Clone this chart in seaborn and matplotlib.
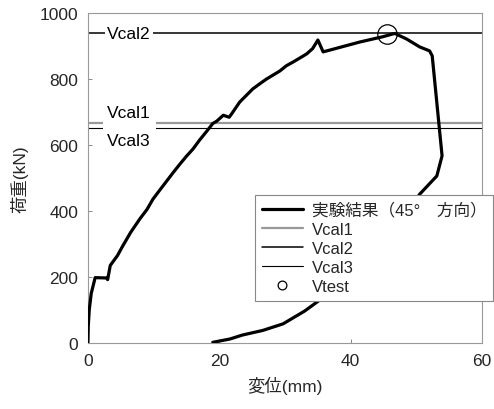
import matplotlib
matplotlib.use("Agg")
import matplotlib.pyplot as plt
import seaborn as sns
import pandas as pd

# ---- data ----
disp = [0, 0.05, 0.2, 0.5, 1.0, 1.1, 2.8, 3.0, 3.4, 4.5, 5.3, 6.5, 7.9, 9.0, 9.9, 11, 12, 13,
        14, 15, 16, 17, 18.1, 19, 19.6, 20.6, 21.5, 21.9, 23.1, 24, 25.1, 26.2, 27.2, 28.2,
        29.2, 30.2, 31.2, 32.3, 33.3, 34.2, 35.0, 35.8, 41.4, 44.9, 46.7, 48.5, 50.5, 52.0,
        52.4, 53.9, 53.1, 50.5, 48, 45, 41, 37, 33, 29.7, 26.6, 23.5, 21.6, 19]
load = [0, 50, 100, 150, 190, 198, 197, 192, 235, 265, 294, 335, 376, 405, 436, 465, 491, 517,
        542, 566, 588, 615, 642, 665, 672, 690, 684, 695, 730, 748, 770, 786, 800, 812,
        824, 840, 851, 864, 876, 892, 918, 882, 912, 928, 938, 921, 897, 885,
        870, 567, 506, 451, 380, 300, 220, 155, 97, 58, 38, 24, 12, 2]
vcal_names = ["Vcal1", "Vcal2", "Vcal3"]
vcal_values = [667, 938, 652]
vtest_x = [45.5]
vtest_y = [935]
series_label = "実験結果（45°　方向）"
x_ticks = [0, 20, 40, 60]
y_ticks = [0, 200, 400, 600, 800, 1000]

sns.set_theme(style="ticks")
plt.rcParams["font.family"] = ["Liberation Sans", "Noto Sans CJK JP", "DejaVu Sans"]
plt.rcParams["xtick.direction"] = "in"
plt.rcParams["ytick.direction"] = "in"

fig = plt.figure(figsize=(4.94, 4.10), dpi=100)
ax = fig.add_axes([0.178, 0.161, 0.798, 0.805])

df = pd.DataFrame({"disp": disp, "load": load})
sns.lineplot(data=df, x="disp", y="load", sort=False, estimator=None, color="black",
             linewidth=2.3, ax=ax, label=series_label, zorder=3)

styles = {"Vcal1": dict(color="#999999", lw=1.6), "Vcal2": dict(color="black", lw=1.1),
          "Vcal3": dict(color="black", lw=0.8)}
for name, val in zip(vcal_names, vcal_values):
    st = styles[name]
    ax.axhline(val, color=st["color"], lw=st["lw"], label=name, zorder=2)

ax.plot(vtest_x, vtest_y, linestyle="none", marker="o", markersize=14,
        markerfacecolor="none", markeredgecolor="black", markeredgewidth=0.9,
        label="Vtest", zorder=4)

# text labels of calc lines (white boxes interrupt lines)
txt = dict(fontsize=12.5, color="black", ha="center", va="center", zorder=5)
ax.text(6.2, vcal_values[1], "Vcal2", bbox=dict(facecolor="white", edgecolor="none", pad=1.5), **txt)
ax.text(6.2, 698, "Vcal1", **txt)
ax.text(6.2, 612, "Vcal3", **txt)
ax.add_patch(plt.Rectangle((2.3, 640), 8.0, 40, facecolor="white", edgecolor="none", zorder=2.5))

ax.set_xlim(0, 60)
ax.set_ylim(0, 1000)
ax.set_xticks(x_ticks)
ax.set_yticks(y_ticks)
ax.tick_params(labelsize=12.5, length=3, width=0.6, color="#777777", pad=7)
for s in ax.spines.values():
    s.set_color("#999999")
    s.set_linewidth(0.8)

ax.set_xlabel("変位(mm)", fontsize=12.5, labelpad=6)
ax.set_ylabel("荷重(kN)", fontsize=12.5, labelpad=8)

leg = ax.legend(loc="upper right", bbox_to_anchor=(1.028, 0.448), fontsize=12,
                frameon=True, fancybox=False, framealpha=1, edgecolor="#888888",
                borderaxespad=0, handlelength=2.45, markerscale=0.45, labelspacing=0.25,
                borderpad=0.4, handletextpad=0.55)
leg.get_frame().set_linewidth(0.8)
leg.set_zorder(10)

fig.savefig("out.png", dpi=100)
